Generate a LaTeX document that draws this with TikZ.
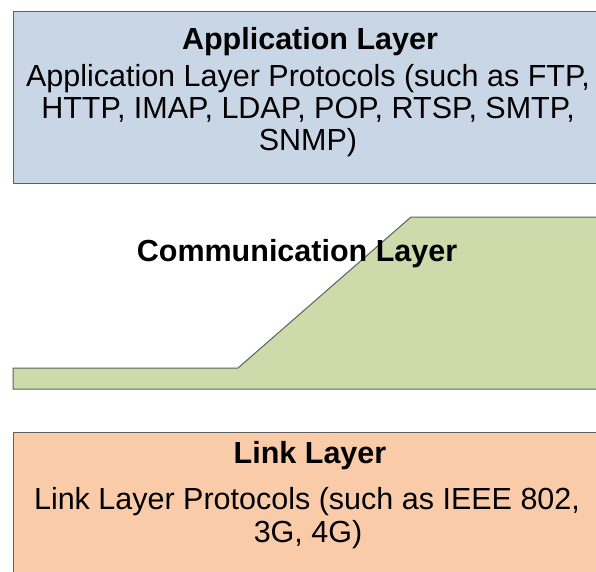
\documentclass[tikz,border=0pt]{standalone}
\usepackage{fontspec}
\setmainfont{Liberation Sans}
\definecolor{appfill}{HTML}{C9D6E6}
\definecolor{comfill}{HTML}{CDDBAA}
\definecolor{linkfill}{HTML}{F9CBA9}
\definecolor{edge}{HTML}{5F5F5F}
\tikzset{
  layerbox/.style={draw=edge, line width=1pt},
  title/.style={anchor=base, inner sep=0pt, font=\fontsize{30.5}{36}\selectfont\bfseries},
  body/.style={anchor=base, inner sep=0pt, font=\fontsize{30.5}{36}\selectfont}
}
\begin{document}
\begin{tikzpicture}[x=1pt,y=-1pt]
\useasboundingbox (0,0) rectangle (596,571);
\begin{scope}
\clip (0,0) rectangle (596,571);
\fill[white] (0,0) rectangle (596,571);
\draw[layerbox, fill=appfill] (13,11) rectangle (610,183);
\draw[layerbox, fill=comfill] (13,368) -- (238,368) -- (411,217) -- (610,217) -- (610,389) -- (13,389) -- cycle;
\draw[layerbox, fill=linkfill] (13,432) rectangle (610,590);
\end{scope}
\node[title] (apptitle) at (310,49) {Application Layer};
\node[body] (app1) at (308,86) {Application Layer Protocols (such as FTP,};
\node[body] (app2) at (308,118) {HTTP, IMAP, LDAP, POP, RTSP, SMTP,};
\node[body] (app3) at (308,150) {SNMP)};
\node[title] (comtitle) at (297,261) {Communication Layer};
\node[title] (linktitle) at (310,463) {Link Layer};
\node[body] (link1) at (307,509) {Link Layer Protocols (such as IEEE 802,};
\node[body] (link2) at (308,542) {3G, 4G)};
\end{tikzpicture}
\end{document}
